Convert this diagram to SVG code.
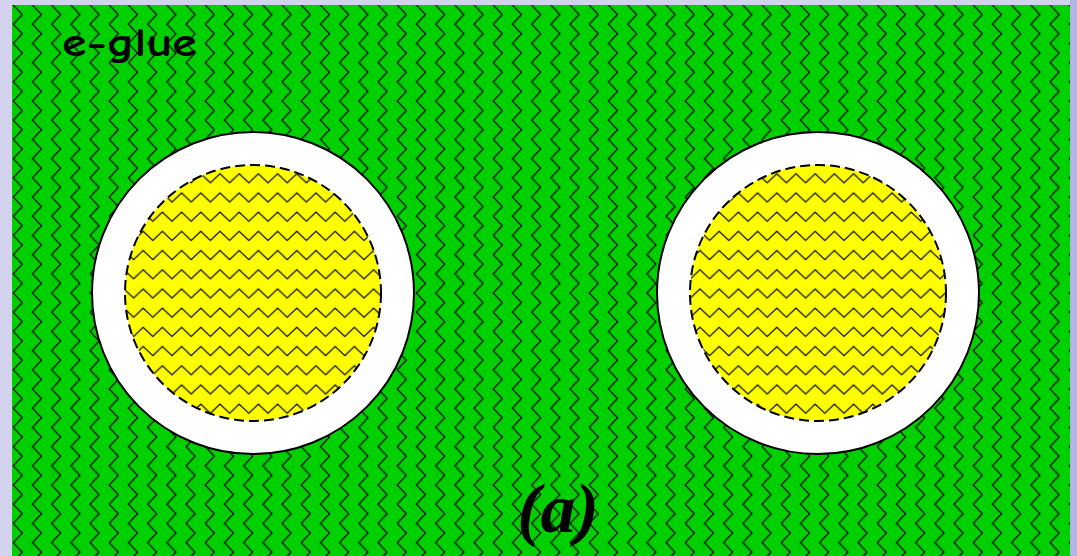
<svg xmlns="http://www.w3.org/2000/svg" width="1077" height="556" viewBox="0 0 1077 556">
<style>
.outer{fill:#ffffff;stroke:#000;stroke-width:2}
.core{stroke:#000;stroke-width:2;stroke-dasharray:10 5}
.zz{fill:none;stroke:#000;stroke-width:1.2}
.lbl1{font-family:"Comic Sans MS","Comic Neue","DejaVu Sans",sans-serif;font-weight:bold;font-size:40px;fill:#000}
.lbl2{font-family:"Liberation Serif","Times New Roman",serif;font-weight:bold;font-style:italic;font-size:70px;fill:#000}
</style>
<defs>
<pattern id="pg" patternUnits="userSpaceOnUse" x="8.3" y="5" width="19.2" height="19.2">
<rect width="19.2" height="19.2" fill="#00d000"/>
<path class="zz" d="M14,-9.6 L5,0 L14,9.6 L5,19.2 L14,28.8"/>
</pattern>
<pattern id="py" patternUnits="userSpaceOnUse" x="8.8" y="-4" width="19.2" height="19.2">
<rect width="19.2" height="19.2" fill="#ffff00"/>
<path class="zz" d="M-9.6,14 L0,5 L9.6,14 L19.2,5 L28.8,14"/>
</pattern>
</defs>
<rect width="1077" height="556" fill="#d3d3f0"/>
<rect x="1070" y="0" width="7" height="556" fill="#b4b4e4"/>
<g id="glue">
<rect x="12" y="5" width="1058" height="551" fill="url(#pg)"/>
</g>
<g id="particle-left">
<circle class="outer" cx="253" cy="293" r="161"/>
<circle class="core" cx="253" cy="293" r="128" fill="url(#py)"/>
</g>
<g id="particle-right">
<circle class="outer" cx="818" cy="293" r="161"/>
<circle class="core" cx="818" cy="293" r="128" fill="url(#py)"/>
</g>
<g id="connectors"/>
<g id="label-glue"><text class="lbl1" x="62" y="56" textLength="135" lengthAdjust="spacingAndGlyphs">e-glue</text></g>
<g id="label-a"><text class="lbl2" x="558" y="532" text-anchor="middle">(a)</text></g>
</svg>
